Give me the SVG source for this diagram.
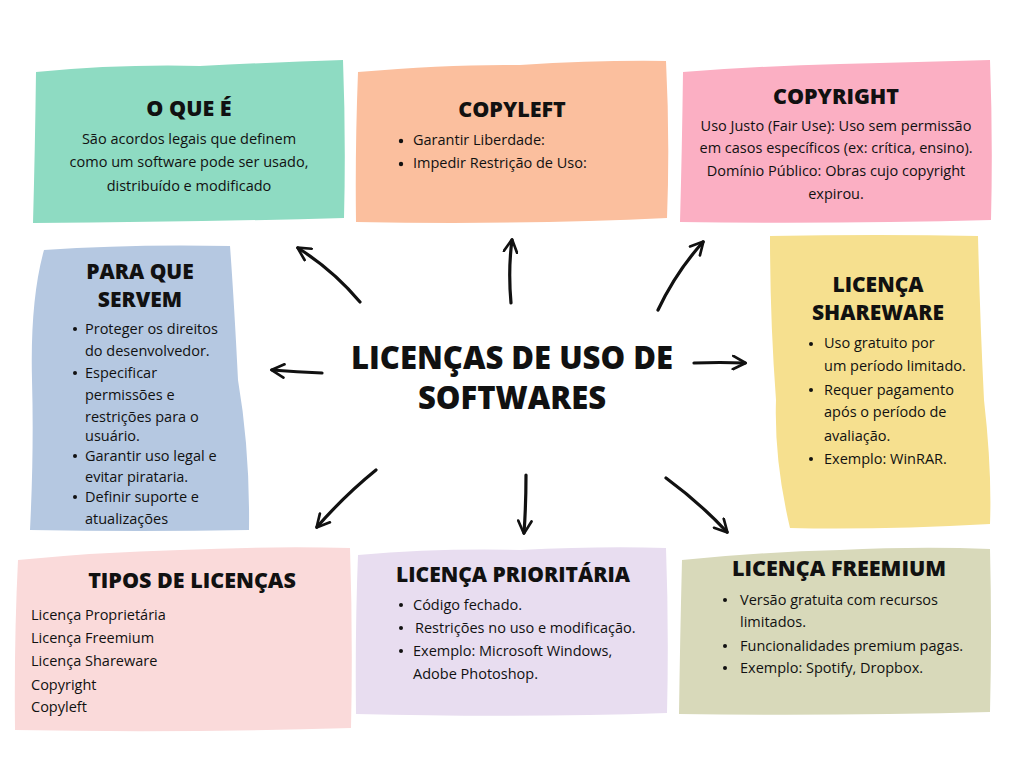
<svg xmlns="http://www.w3.org/2000/svg" width="1024" height="768" viewBox="0 0 1024 768">
<defs>
<marker id="ah" viewBox="0 0 12 12" refX="10" refY="6" markerWidth="5" markerHeight="5" markerUnits="strokeWidth" orient="auto">
<path d="M1,1 L10.5,6 L1,11" fill="none" stroke="#111" stroke-width="2" stroke-linecap="round" stroke-linejoin="round"/>
</marker>
<style>
.t{font-family:"Open Sans","Liberation Sans",sans-serif;font-weight:800;fill:#111;text-anchor:middle}
.b{font-family:"Open Sans","Liberation Sans",sans-serif;font-size:14.5px;fill:#111}
.c{text-anchor:middle}
.a{fill:none;stroke:#111;stroke-width:3.2;stroke-linecap:round;marker-end:url(#ah)}
</style>
</defs>
<rect width="1024" height="768" fill="#fff"/>

<g id="o-que-e">
<path d="M36,72 Q120,64 200,66 Q280,62 343,60 Q346,140 344,218 Q200,222 33,223 Q35,150 36,72 Z" fill="#8EDBC2"/>
<text class="t" x="189" y="116" font-size="21.5">O QUE É</text>
<text class="b c" x="189" y="144">São acordos legais que definem</text>
<text class="b c" x="189" y="167">como um software pode ser usado,</text>
<text class="b c" x="189" y="191">distribuído e modificado</text>
</g>

<g id="copyleft">
<path d="M358,72 Q450,64 520,65 Q600,60 666,61 Q670,140 667,218 Q520,225 356,222 Q355,150 358,72 Z" fill="#FBBF9E"/>
<text class="t" x="512" y="117" font-size="21.5">COPYLEFT</text>
<circle cx="401" cy="141" r="2.2" fill="#111"/>
<text class="b" x="413" y="145">Garantir Liberdade:</text>
<circle cx="401" cy="164" r="2.2" fill="#111"/>
<text class="b" x="413" y="168">Impedir Restrição de Uso:</text>
</g>

<g id="copyright">
<path d="M683,72 Q760,66 840,64 Q920,62 990,60 Q993,140 991,220 Q840,224 680,222 Q682,150 683,72 Z" fill="#FBAFC3"/>
<text class="t" x="836" y="104" font-size="21.5">COPYRIGHT</text>
<text class="b c" x="836" y="131">Uso Justo (Fair Use): Uso sem permissão</text>
<text class="b c" x="836" y="153">em casos específicos (ex: crítica, ensino).</text>
<text class="b c" x="836" y="176">Domínio Público: Obras cujo copyright</text>
<text class="b c" x="836" y="199">expirou.</text>
</g>

<g id="para-que-servem">
<path d="M44,250 Q130,244 230,246 Q234,300 238,380 Q250,450 249,530 Q140,532 30,530 Q34,450 32,380 Q30,300 44,250 Z" fill="#B5C8E1"/>
<text class="t" x="140" y="279" font-size="21">PARA QUE</text>
<text class="t" x="140" y="307" font-size="21">SERVEM</text>
<g class="b">
<circle cx="75" cy="329" r="2" fill="#111"/>
<text x="85" y="334">Proteger os direitos</text>
<text x="85" y="356">do desenvolvedor.</text>
<circle cx="75" cy="373" r="2" fill="#111"/>
<text x="85" y="378">Especificar</text>
<text x="85" y="400">permissões e</text>
<text x="85" y="422">restrições para o</text>
<text x="85" y="441">usuário.</text>
<circle cx="75" cy="456" r="2" fill="#111"/>
<text x="85" y="461">Garantir uso legal e</text>
<text x="85" y="482">evitar pirataria.</text>
<circle cx="75" cy="497" r="2" fill="#111"/>
<text x="85" y="502">Definir suporte e</text>
<text x="85" y="524">atualizações</text>
</g>
</g>

<g id="shareware">
<path d="M770,236 Q880,234 978,236 Q980,320 984,400 Q992,470 990,524 Q880,530 790,528 Q774,460 776,400 Q770,320 770,236 Z" fill="#F6E08F"/>
<text class="t" x="878" y="292" font-size="21">LICENÇA</text>
<text class="t" x="878" y="320" font-size="21">SHAREWARE</text>
<g class="b">
<circle cx="811" cy="344" r="2" fill="#111"/>
<text x="824" y="348">Uso gratuito por</text>
<text x="824" y="371">um período limitado.</text>
<circle cx="811" cy="390" r="2" fill="#111"/>
<text x="824" y="395">Requer pagamento</text>
<text x="824" y="417">após o período de</text>
<text x="824" y="441">avaliação.</text>
<circle cx="811" cy="459" r="2" fill="#111"/>
<text x="824" y="464">Exemplo: WinRAR.</text>
</g>
</g>

<g id="tipos-de-licencas">
<path d="M18,560 Q100,552 180,550 Q270,546 350,548 Q353,640 351,728 Q180,733 15,730 Q14,640 18,560 Z" fill="#FADADA"/>
<text class="t" x="192" y="588" font-size="21.5">TIPOS DE LICENÇAS</text>
<g class="b">
<text x="31" y="620">Licença Proprietária</text>
<text x="31" y="643">Licença Freemium</text>
<text x="31" y="666">Licença Shareware</text>
<text x="31" y="690">Copyright</text>
<text x="31" y="712">Copyleft</text>
</g>
</g>

<g id="licenca-prioritaria">
<path d="M358,555 Q440,548 520,550 Q600,546 666,548 Q669,630 667,713 Q520,718 356,714 Q355,630 358,555 Z" fill="#E8DDF0"/>
<text class="t" x="513" y="582" font-size="21">LICENÇA PRIORITÁRIA</text>
<g class="b">
<circle cx="401" cy="605" r="2" fill="#111"/>
<text x="413" y="610">Código fechado.</text>
<circle cx="401" cy="628" r="2" fill="#111"/>
<text x="415" y="633">Restrições no uso e modificação.</text>
<circle cx="401" cy="651" r="2" fill="#111"/>
<text x="413" y="656">Exemplo: Microsoft Windows,</text>
<text x="413" y="679">Adobe Photoshop.</text>
</g>
</g>

<g id="licenca-freemium">
<path d="M682,560 Q760,552 840,550 Q920,546 990,549 Q992,630 990,712 Q840,716 679,714 Q680,640 682,560 Z" fill="#D8D9BA"/>
<text class="t" x="839" y="576" font-size="21.5">LICENÇA FREEMIUM</text>
<g class="b">
<circle cx="725" cy="600" r="2" fill="#111"/>
<text x="740" y="605">Versão gratuita com recursos</text>
<text x="740" y="627">limitados.</text>
<circle cx="725" cy="646" r="2" fill="#111"/>
<text x="740" y="651">Funcionalidades premium pagas.</text>
<circle cx="725" cy="668" r="2" fill="#111"/>
<text x="740" y="673">Exemplo: Spotify, Dropbox.</text>
</g>
</g>

<g id="center">
<text class="t" x="512" y="369" font-size="31">LICENÇAS DE USO DE</text>
<text class="t" x="512" y="409" font-size="31">SOFTWARES</text>
</g>

<g id="connectors">
<path class="a" d="M360,302 Q333,270 298,248"/>
<path class="a" d="M511,303 Q508,270 512,240"/>
<path class="a" d="M658,310 Q676,272 703,242"/>
<path class="a" d="M322,373 Q297,372 272,370"/>
<path class="a" d="M694,363 Q720,362 745,363"/>
<path class="a" d="M376,470 Q345,495 317,527"/>
<path class="a" d="M526,475 Q526,505 524,533"/>
<path class="a" d="M666,478 Q700,503 727,532"/>
</g>
</svg>
